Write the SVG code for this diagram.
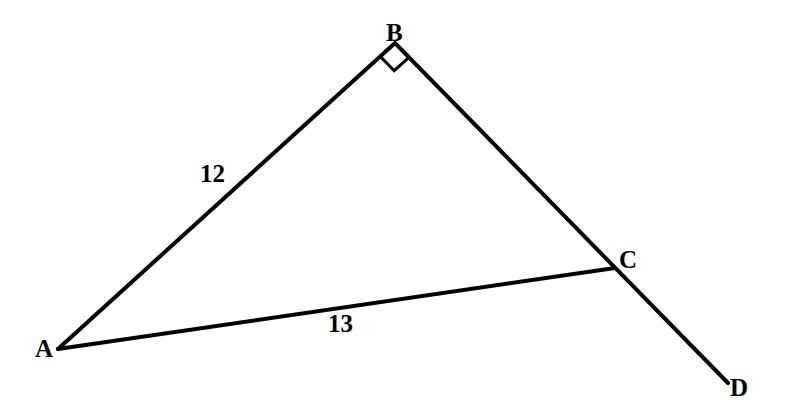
<svg xmlns="http://www.w3.org/2000/svg" width="803" height="411" viewBox="0 0 803 411">
<style>
.ln{stroke:#000;stroke-width:4;fill:none;stroke-linecap:round;stroke-linejoin:miter}
.mk{stroke:#000;stroke-width:3;fill:none}
.lb{font-family:"Liberation Serif","Times New Roman",serif;font-weight:bold;font-size:25px;fill:#000}
</style>
<rect width="803" height="411" fill="#fff"/>
<g id="connectors">
<polyline class="ln" points="58,349 395,43 728,383"/>
<line class="ln" x1="58" y1="349" x2="615" y2="268"/>
<polyline class="mk" points="380.2,56.4 394.2,70.7 409,57.3"/>
</g>
<g id="A"><text class="lb" x="35" y="357">A</text></g>
<g id="B"><text class="lb" x="386" y="41">B</text></g>
<g id="C"><text class="lb" x="619" y="268">C</text></g>
<g id="D"><text class="lb" x="730" y="396">D</text></g>
<g id="label12"><text class="lb" x="200" y="182">12</text></g>
<g id="label13"><text class="lb" x="328" y="332">13</text></g>
</svg>
